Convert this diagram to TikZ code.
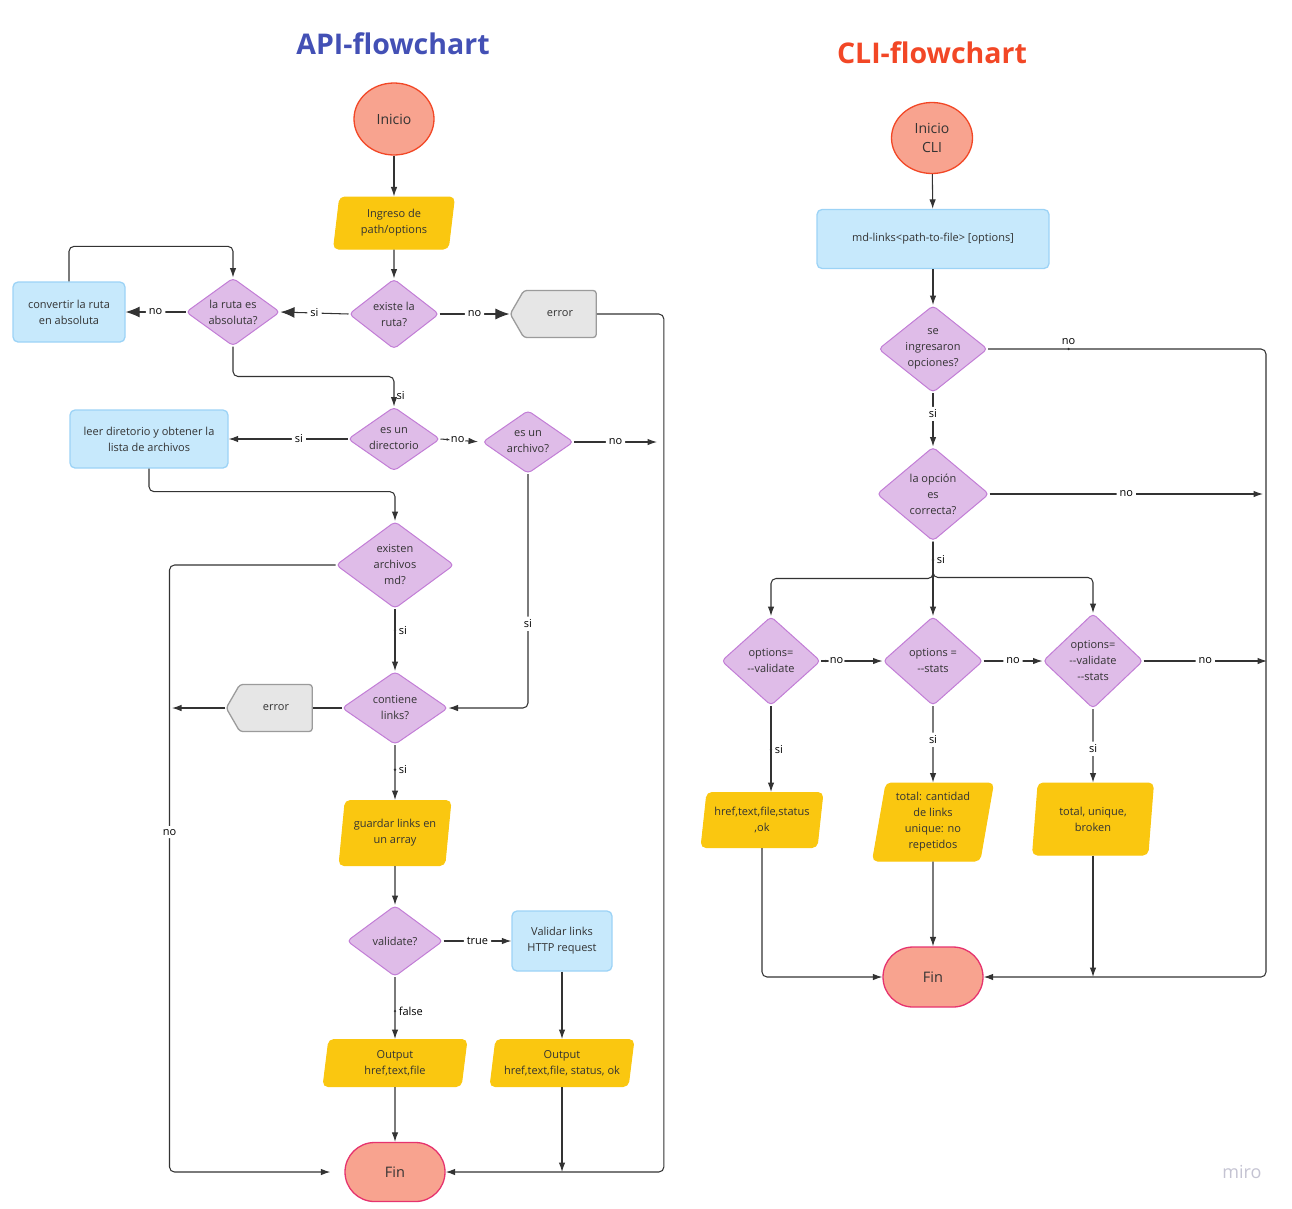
\documentclass[tikz,border=0pt]{standalone}
\usepackage{fontspec}
\setmainfont{Open Sans}
\usetikzlibrary{shapes.geometric,shapes.symbols,shapes.misc,arrows.meta,calc}
\definecolor{ttlblue}{HTML}{4350B5}
\definecolor{ttlred}{HTML}{F24726}
\definecolor{salmon}{HTML}{F8A38F}
\definecolor{inired}{HTML}{F24726}
\definecolor{finpink}{HTML}{E6336E}
\definecolor{ylw}{HTML}{FAC710}
\definecolor{dfill}{HTML}{DFBCE8}
\definecolor{ddraw}{HTML}{C27DD6}
\definecolor{bfill}{HTML}{C7E9FC}
\definecolor{bdraw}{HTML}{9CD3F6}
\definecolor{gfill}{HTML}{E6E6E6}
\definecolor{gdraw}{HTML}{9B9B9B}
\definecolor{txt}{HTML}{333333}
\definecolor{ln}{HTML}{333333}
\definecolor{mirogray}{HTML}{C4C3D2}
\tikzset{
  base/.style={font=\fontsize{11}{16}\selectfont, text=txt, align=center, line width=1pt},
  dec/.style={base, diamond, inner sep=-25pt, fill=dfill, draw=ddraw, rounded corners=4pt},
  proc/.style={base, rectangle, inner sep=0pt, fill=bfill, draw=bdraw, rounded corners=5pt, line width=1.3pt},
  io/.style={base, trapezium, inner sep=0pt, trapezium left angle=77, trapezium right angle=103, trapezium stretches body=true, fill=ylw, draw=ylw, rounded corners=5pt},
  errs/.style={base, signal, signal to=west, signal pointer angle=120, inner sep=-10pt, fill=gfill, draw=gdraw, line width=1.3pt, rounded corners=3pt},
  term/.style={base, ellipse, inner sep=0pt, fill=salmon, draw=inired, line width=1.3pt, font=\fontsize{14}{19}\selectfont},
  endt/.style={base, rounded rectangle, inner sep=0pt, fill=salmon, draw=finpink, line width=1.3pt, font=\fontsize{14.5}{19}\selectfont},
  con/.style={draw=ln, line width=1.05pt, rounded corners=5pt},
  arr/.style={con, -{Latex[length=9.5pt,width=6.5pt]}},
  barr/.style={con, -{Latex[length=14pt,width=11pt]}},
  lbl/.style={font=\fontsize{11}{12}\selectfont, fill=white, inner sep=3pt, text=black},
  dotl/.style={circle, fill=ln, inner sep=0pt, minimum size=2.6pt, label={[font=\fontsize{11}{12}\selectfont, inner sep=1.5pt, text=black, fill=white]right:#1}},
  dotu/.style={circle, fill=ln, inner sep=0pt, minimum size=2.6pt, label={[font=\fontsize{11}{12}\selectfont, inner sep=2pt, text=black]above:#1}},
  ttl/.style={font=\fontsize{28.5}{32}\selectfont\bfseries}
}
\begin{document}
\begin{tikzpicture}[x=1pt,y=-1pt]
\useasboundingbox (0,0) rectangle (1292,1208);
% titles
\node[ttl, text=ttlblue] (t1) at (393,44) {API-flowchart};
\node[ttl, text=ttlred] (t2) at (932,53) {CLI-flowchart};
\node[font=\fontsize{18}{20}\selectfont, text=mirogray] (miro) at (1242,1172) {miro};

% ---------------- API ----------------
\node[term, minimum width=80, minimum height=72] (ini) at (394,119) {Inicio};
\node[io, minimum width=121, minimum height=52] (ing) at (394,223) {Ingreso de\\path/options};
\node[dec, minimum width=90, minimum height=70] (ex) at (394,314) {existe la\\ruta?};
\node[dec, minimum width=94, minimum height=68] (abs) at (233,312) {la ruta es\\absoluta?};
\node[proc, minimum width=112, minimum height=60] (conv) at (69,312) {convertir la ruta\\en absoluta};
\node[errs, minimum width=86, minimum height=47] (err) at (560,314) {error};
\node[dec, minimum width=92, minimum height=64] (dir) at (394,439) {es un\\directorio};
\node[dec, minimum width=91, minimum height=63] (arch) at (528,442) {es un\\archivo?};
\node[proc, minimum width=158, minimum height=58] (leer) at (149,439) {leer diretorio y obtener la\\lista de archivos};
\node[dec, minimum width=118, minimum height=87] (exi) at (395,565) {existen\\archivos\\md?};
\node[dec, minimum width=106, minimum height=73] (cont) at (395,708) {contiene\\links?};
\node[errs, minimum width=86, minimum height=47] (err2) at (276,708) {error};
\node[io, minimum width=112, minimum height=65] (guard) at (395,833) {guardar links en\\un array};
\node[dec, minimum width=96, minimum height=71] (val) at (395,941) {validate?};
\node[proc, minimum width=100, minimum height=60] (vl) at (562,941) {Validar links\\HTTP request};
\node[io, minimum width=144, minimum height=47] (out1) at (395,1063) {Output\\href,text,file};
\node[io, minimum width=144, minimum height=47] (out2) at (562,1063) {Output\\href,text,file, status, ok};
\node[endt, minimum width=100, minimum height=59] (fin) at (395,1172) {Fin};

\coordinate (archend) at (657,442);
\coordinate (e2end) at (172,708);

\draw[arr] (ini) -- (ing);
\draw[arr] (ing) -- (ex);
\draw[barr] (ex.west) -- node[lbl]{si} (abs.east);
\draw[barr] (abs.west) -- node[lbl]{no} (conv.east);
\draw[arr] (conv.north) -- ++(0,-35) -| (abs.north);
\draw[barr] (ex.east) -- node[lbl]{no} (err.west);
\draw[arr] (err.east) -- ++(67,0) |- (fin.east);
\draw[arr] (abs.south) -- ++(0,30) -| node[pos=0.82, anchor=west, font=\fontsize{11}{12}\selectfont, inner sep=2pt]{si} (dir.north);
\draw[arr] (dir.west) -- node[lbl, pos=0.41]{si} (leer.east);
\draw[arr, shorten >=4pt] (dir.east) -- node[dotl=no, pos=0.16]{} (arch.west);
\draw[arr] (arch.east) -- node[lbl]{no} (archend);
\draw[arr] (arch.south) |- node[lbl, pos=0.32]{si} (cont.east);
\draw[arr] (leer.south) -- ++(0,23) -| (exi.north);
\draw[arr, shorten >=14pt] (exi.west) -- ++(-166,0) |- node[lbl, pos=0.22]{no} (fin.west);
\draw[arr] (exi.south) -- node[dotl=si, pos=0.34]{} (cont.north);
\draw[con] (cont.west) -- (err2.east);
\draw[arr] (err2.west) -- (e2end);
\draw[arr] (cont.south) -- node[dotl=si, pos=0.45]{} (guard.north);
\draw[arr] (guard) -- (val);
\draw[arr] (val.east) -- node[lbl]{true} (vl.west);
\draw[arr] (val.south) -- node[dotl=false, pos=0.55]{} (out1.north);
\draw[arr] (vl) -- (out2);
\draw[arr] (out1) -- (fin);
\draw[arr] (out2.south) -- (out2.south |- fin.east);

% ---------------- CLI ----------------
\node[term, minimum width=81, minimum height=71] (cini) at (932,138) {Inicio\\CLI};
\node[proc, minimum width=232, minimum height=59, font=\fontsize{11}{14}\selectfont] (md) at (933,239) {md-links<path-to-file> [options]};
\node[dec, minimum width=109, minimum height=87] (se) at (933,349) {se\\ingresaron\\opciones?};
\node[dec, minimum width=112, minimum height=94] (opc) at (933,494) {la opción\\es\\correcta?};
\node[dec, minimum width=99, minimum height=89] (ov) at (771,661) {options=\\-{}-validate};
\node[dec, minimum width=100, minimum height=89] (os) at (933,661) {options =\\-{}-stats};
\node[dec, minimum width=100, minimum height=95] (ovs) at (1093,661) {options=\\-{}-validate\\-{}-stats};
\node[io, minimum width=122, minimum height=55] (href) at (762,820) {href,text,file,status\\,ok};
\node[io, minimum width=121, minimum height=78] (tot) at (933,822) {total: cantidad\\de links\\unique: no\\repetidos};
\node[io, minimum width=121, minimum height=72] (tub) at (1093,819) {total, unique,\\broken};
\node[endt, minimum width=100, minimum height=60] (cfin) at (933,977) {Fin};

\coordinate (opcend) at (1263,494);
\coordinate (ovsend) at (1267,661);

\draw[arr] (cini) -- (md);
\draw[arr] (md) -- (se);
\draw[arr] (se.east) -- node[dotu=no, pos=0.29]{} ++(278,0) |- (cfin.east);
\draw[arr] (se.south) -- node[lbl, pos=0.39]{si} (opc.north);
\draw[arr] (opc.east) -- node[lbl]{no} (opcend);
\draw[arr] (opc.south) -- node[dotl=si, pos=0.5]{} ++(0,37) -| (ov.north);
\draw[arr] (opc.south) -- (os.north);
\draw[arr] (opc.south) -- ++(0,36) -| (ovs.north);
\draw[arr] (ov.east) -- node[dotl=no, pos=0.08]{} (os.west);
\draw[arr] (os.east) -- node[lbl]{no} (ovs.west);
\draw[arr] (ovs.east) -- node[lbl]{no} (ovsend);
\draw[arr] (ov.south) -- node[dotl=si, pos=0.51]{} (ov.south |- href.north);
\draw[arr] (os.south) -- node[lbl, pos=0.44]{si} (tot.north);
\draw[arr] (ovs.south) -- node[lbl, pos=0.54]{si} (tub.north);
\draw[arr] (href.south) |- (cfin.west);
\draw[arr] (tot) -- (cfin);
\draw[arr] (tub.south) -- (tub.south |- cfin.east);
\end{tikzpicture}
\end{document}
